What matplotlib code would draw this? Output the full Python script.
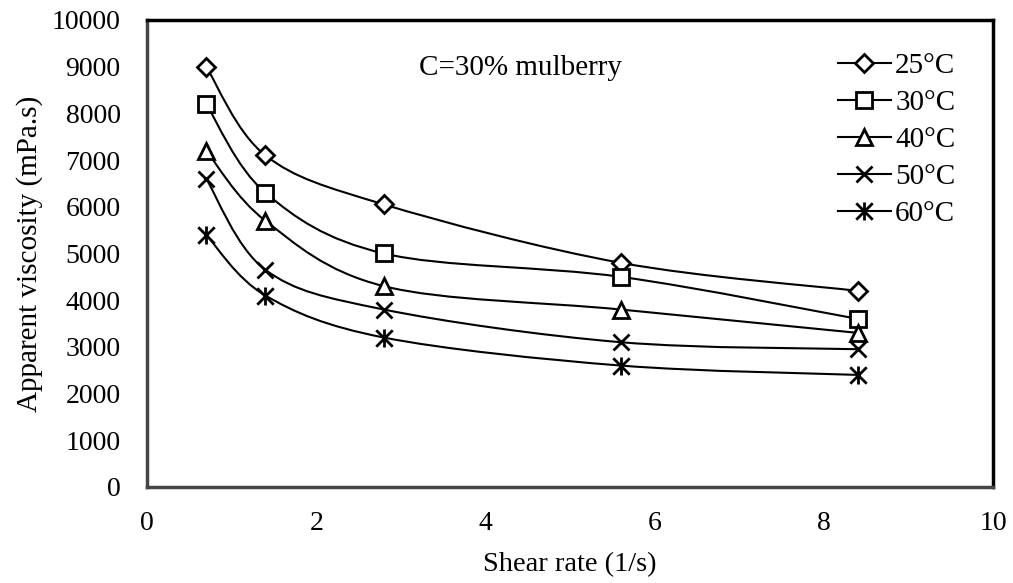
import numpy as np
import matplotlib.pyplot as plt
from matplotlib.path import Path
from matplotlib.patches import PathPatch
from matplotlib.lines import Line2D

plt.rcParams["font.family"] = ["Liberation Serif", "DejaVu Serif"]

shear_rate = [0.7, 1.4, 2.8, 5.6, 8.4]
visc_25 = [9000, 7100, 6050, 4800, 4200]
visc_30 = [8200, 6300, 5000, 4500, 3600]
visc_40 = [7200, 5700, 4300, 3800, 3300]
visc_50 = [6600, 4650, 3800, 3100, 2950]
visc_60 = [5400, 4100, 3200, 2600, 2400]
labels = ["25°C", "30°C", "40°C", "50°C", "60°C"]

# excel-like star marker: an x with a vertical bar
star_marker = Path(
    [(-1, -1), (1, 1), (-1, 1), (1, -1), (0, -1.1), (0, 1.1)],
    [Path.MOVETO, Path.LINETO, Path.MOVETO, Path.LINETO, Path.MOVETO, Path.LINETO],
)
markers = ["D", "s", "^", "x", star_marker]
msizes = [9, 12, 11, 12, 13]
LW = 1.5
MEW = 2.0


def smooth_path(x, y):
    # catmull-rom style bezier through the points (like excel "smoothed line")
    p = np.column_stack([x, y]).astype(float)
    ext = np.vstack([p[0], p, p[-1]])
    verts = [p[0]]
    codes = [Path.MOVETO]
    for i in range(len(p) - 1):
        p0, p1, p2, p3 = ext[i], ext[i + 1], ext[i + 2], ext[i + 3]
        verts += [p1 + (p2 - p0) / 6, p2 - (p3 - p1) / 6, p2]
        codes += [Path.CURVE4] * 3
    return Path(verts, codes)


fig = plt.figure(figsize=(10.13, 5.83), dpi=100)
ax = fig.add_axes([0.1451, 0.1647, 0.8352, 0.801])

handles = []
for vals, mk, ms, lab in zip([visc_25, visc_30, visc_40, visc_50, visc_60],
                             markers, msizes, labels):
    ax.add_patch(PathPatch(smooth_path(shear_rate, vals), fill=False,
                           edgecolor="black", lw=LW, zorder=2))
    ax.plot(shear_rate, vals, ls="none", marker=mk, ms=ms, mfc="white",
            mec="black", mew=MEW, zorder=3)
    handles.append(Line2D([], [], color="black", lw=LW, marker=mk, ms=ms,
                          mfc="white", mec="black", mew=MEW, label=lab))

ax.set_xlim(0, 10)
ax.set_ylim(0, 10000)
ax.set_xticks(range(0, 11, 2))
ax.set_yticks(range(0, 10001, 1000))
ax.tick_params(axis="both", length=0, labelsize=20)
ax.tick_params(axis="y", pad=19)
ax.tick_params(axis="x", pad=17)

for side in ["top", "right"]:
    ax.spines[side].set_color("black")
    ax.spines[side].set_linewidth(2.5)
for side in ["left", "bottom"]:
    ax.spines[side].set_color("#454545")
    ax.spines[side].set_linewidth(2.5)

ax.set_xlabel("Shear rate (1/s)", fontsize=20.5, labelpad=12)
ax.set_ylabel("Apparent viscosity (mPa.s)", fontsize=21, labelpad=6)

ax.text(4.41, 8970, "C=30% mulberry", fontsize=21, ha="center", va="center")

ax.legend(handles=handles, loc="upper left", bbox_to_anchor=(0.817, 0.93),
          frameon=False, fontsize=21, handlelength=1.8, handletextpad=0.15,
          labelspacing=0.36, borderaxespad=0, borderpad=0)

fig.savefig("out.png", dpi=100)
